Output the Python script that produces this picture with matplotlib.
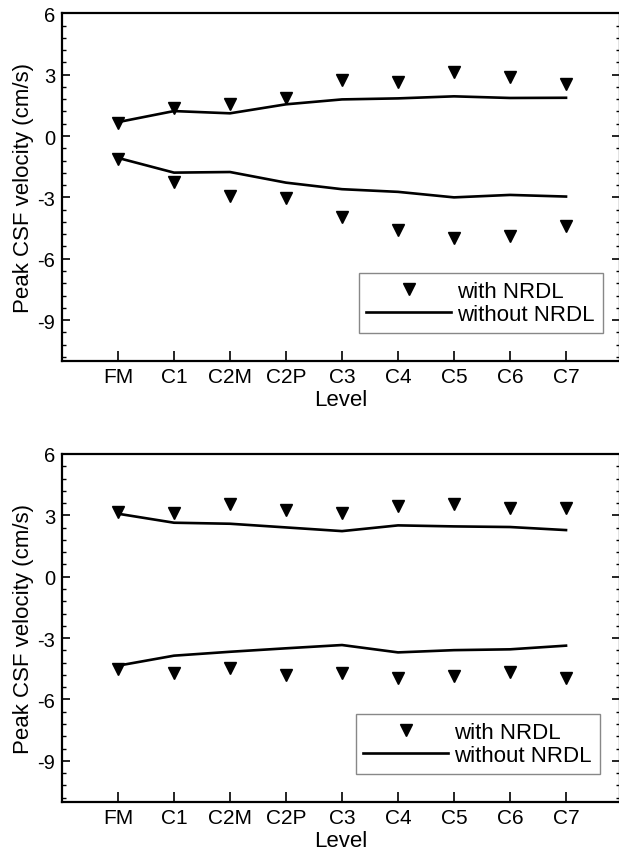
import matplotlib
matplotlib.use("Agg")
import matplotlib.pyplot as plt
from matplotlib.ticker import MultipleLocator

plt.rcParams['font.family'] = ['Liberation Sans', 'DejaVu Sans']

levels = ["FM", "C1", "C2M", "C2P", "C3", "C4", "C5", "C6", "C7"]

# Panel 1 (top)
top_with_pos = [0.62, 1.38, 1.58, 1.85, 2.72, 2.64, 3.12, 2.88, 2.52]
top_with_neg = [-1.10, -2.24, -2.93, -3.05, -3.95, -4.59, -4.98, -4.89, -4.42]
top_without_pos = [0.68, 1.22, 1.11, 1.55, 1.79, 1.84, 1.94, 1.86, 1.87]
top_without_neg = [-1.07, -1.79, -1.76, -2.28, -2.60, -2.73, -3.00, -2.88, -2.96]

# Panel 2 (bottom)
bot_with_pos = [3.15, 3.10, 3.54, 3.26, 3.13, 3.47, 3.55, 3.36, 3.36]
bot_with_neg = [-4.52, -4.73, -4.48, -4.81, -4.73, -4.97, -4.86, -4.68, -4.94]
bot_without_pos = [3.08, 2.64, 2.59, 2.41, 2.23, 2.51, 2.46, 2.43, 2.28]
bot_without_neg = [-4.35, -3.86, -3.67, -3.50, -3.34, -3.70, -3.59, -3.55, -3.37]

yticks = [6, 3, 0, -3, -6, -9]

fig = plt.figure(figsize=(6.19, 8.54), dpi=100)
W, H = 619, 854

def make_axes(top_px, bottom_px):
    left_px, right_px = 62, 619.5
    return fig.add_axes([left_px / W, 1 - bottom_px / H,
                         (right_px - left_px) / W, (bottom_px - top_px) / H])

panels = [
    (make_axes(14.3, 362), top_with_pos, top_with_neg, top_without_pos, top_without_neg, (0.970, 0.0805)),
    (make_axes(455, 802.7), bot_with_pos, bot_with_neg, bot_without_pos, bot_without_neg, (0.9646, 0.0797)),
]

x = list(range(1, len(levels) + 1))
for ax, wp, wn, wop, won, anchor in panels:
    l1, = ax.plot(x, wp, linestyle='none', marker='v', color='black', markersize=9, label='with NRDL')
    ax.plot(x, wn, linestyle='none', marker='v', color='black', markersize=9)
    l2, = ax.plot(x, wop, color='black', linewidth=1.9, label='without NRDL')
    ax.plot(x, won, color='black', linewidth=1.9)
    ax.set_xlim(0, 9.955)
    ax.set_ylim(-11, 6)
    ax.set_xticks(x)
    ax.set_xticklabels(levels)
    ax.set_yticks(yticks)
    ax.set_yticklabels([str(v) for v in yticks])
    ax.yaxis.set_minor_locator(MultipleLocator(0.6))
    ax.tick_params(axis='x', which='major', direction='in', length=7.5, width=1.2,
                   labelsize=15, pad=4.5, top=False)
    ax.tick_params(axis='y', which='major', direction='in', length=5.5, width=1.2,
                   labelsize=14.5, pad=5, left=True, right=True)
    ax.tick_params(axis='y', which='minor', direction='in', length=3, width=1.0,
                   left=True, right=True)
    for s in ax.spines.values():
        s.set_linewidth(1.6)
    ax.set_xlabel('Level', fontsize=16, labelpad=2)
    ax.set_ylabel('Peak CSF velocity (cm/s)', fontsize=16, labelpad=2)
    leg = ax.legend(handles=[l1, l2], loc='lower right', bbox_to_anchor=anchor,
                    borderaxespad=0, fontsize=16, handlelength=3.8, numpoints=1,
                    fancybox=False, framealpha=1, edgecolor='#888888',
                    labelspacing=0.1, handletextpad=0.3, borderpad=0.35)
    leg.get_frame().set_linewidth(1.0)

fig.savefig('out.png', dpi=100)
